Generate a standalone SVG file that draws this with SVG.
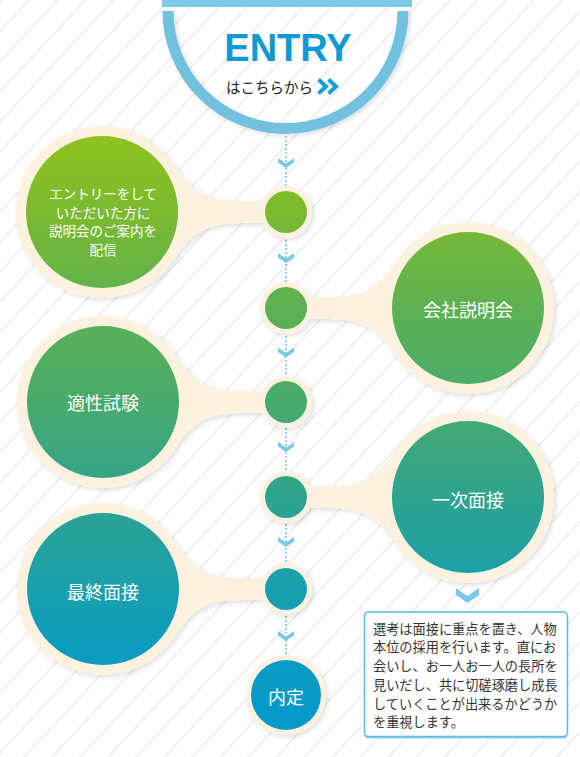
<svg xmlns="http://www.w3.org/2000/svg" width="580" height="757" viewBox="0 0 580 757">
<defs>
<pattern id="stripes" width="20.5" height="20.5" patternUnits="userSpaceOnUse" patternTransform="rotate(43)">
<rect x="0" y="0" width="2" height="20.5" fill="#efefef"/>
</pattern>
<linearGradient id="grad" gradientUnits="userSpaceOnUse" x1="0" y1="136" x2="0" y2="730">
<stop offset="0" stop-color="#8dc21f"/>
<stop offset="0.128" stop-color="#7cba2f"/>
<stop offset="0.288" stop-color="#5db152"/>
<stop offset="0.448" stop-color="#48ab6c"/>
<stop offset="0.608" stop-color="#2ea38e"/>
<stop offset="0.763" stop-color="#18a0ad"/>
<stop offset="0.89" stop-color="#0a9bc4"/>
<stop offset="1" stop-color="#0399cc"/>
</linearGradient>
<filter id="shadow" x="-20%" y="-20%" width="140%" height="140%">
<feDropShadow dx="2" dy="2" stdDeviation="2.5" flood-color="#000" flood-opacity="0.13"/>
</filter>
<path id="band" d="M70.4,-49.3 C88,-22 103,-11 138,-11 L175,-11 L175,11 L138,11 C103,11 88,22 70.4,49.3 Z"/>
<polygon id="chev" points="-8,0 0,5.5 8,0 8,4.5 0,10 -8,4.5"/>
</defs>
<style>
.cream{fill:#fdf2e0}
.fill{fill:url(#grad)}
.lbl{font-family:"Noto Sans CJK JP","Noto Sans",sans-serif;fill:#ffffff;text-anchor:middle}
.big{font-size:18px}
.small{font-size:13.5px}
.chev{fill:#7cc7e8}
.body{font-family:"Noto Sans CJK JP","Noto Sans",sans-serif;font-size:13.2px;fill:#333333}
</style>
<rect x="0" y="0" width="580" height="757" fill="#ffffff"/>
<rect x="0" y="0" width="580" height="757" fill="url(#stripes)"/>

<g id="entry">
<rect x="162" y="0" width="250" height="7" fill="#7ec9e6"/>
<path d="M168,11 A117.5,117.5 0 0 0 403,11" fill="none" stroke="#72c1df" stroke-width="11" filter="url(#shadow)"/>
<text x="288" y="61" font-family="Liberation Sans, Arial, sans-serif" font-weight="bold" font-size="38" fill="#0f9ad3" text-anchor="middle">ENTRY</text>
<text x="226" y="93" font-family="Noto Sans CJK JP, sans-serif" font-size="14.5" fill="#222222">はこちらから</text>
<polyline points="318.5,79.5 326,86.5 318.5,93.5" fill="none" stroke="#1a9ed6" stroke-width="4"/>
<polyline points="328.5,79.5 336,86.5 328.5,93.5" fill="none" stroke="#1a9ed6" stroke-width="4"/>
</g>

<g id="connectors">
<line x1="286" y1="136" x2="286" y2="660" stroke="#5bb8e0" stroke-width="1.3" stroke-dasharray="2 2"/>
<use href="#chev" class="chev" x="286" y="158"/>
<use href="#chev" class="chev" x="286" y="253"/>
<use href="#chev" class="chev" x="286" y="347.5"/>
<use href="#chev" class="chev" x="286" y="442"/>
<use href="#chev" class="chev" x="286" y="537"/>
<use href="#chev" class="chev" x="286" y="631"/>
<polygon points="456,588 467.5,596 479,588 479,595 467.5,603 456,595" class="chev"/>
</g>

<g id="step1">
<g class="cream" filter="url(#shadow)">
<use href="#band" transform="translate(102,212)"/>
<circle cx="102" cy="212" r="86"/>
<circle cx="286" cy="212" r="26"/>
</g>
<circle class="fill" cx="102" cy="212" r="76"/>
<circle class="fill" cx="286" cy="212" r="21"/>
<text class="lbl small" x="103" y="199">エントリーをして</text>
<text class="lbl small" x="103" y="217.5">いただいた方に</text>
<text class="lbl small" x="103" y="236">説明会のご案内を</text>
<text class="lbl small" x="103" y="254.5">配信</text>
</g>

<g id="step2">
<g class="cream" filter="url(#shadow)">
<use href="#band" transform="translate(468,308) scale(-1,1)"/>
<circle cx="468" cy="308" r="86"/>
<circle cx="286" cy="308" r="26"/>
</g>
<circle class="fill" cx="468" cy="308" r="76"/>
<circle class="fill" cx="286" cy="308" r="21"/>
<text class="lbl big" x="468" y="317">会社説明会</text>
</g>

<g id="step3">
<g class="cream" filter="url(#shadow)">
<use href="#band" transform="translate(103,402)"/>
<circle cx="103" cy="402" r="86"/>
<circle cx="286" cy="402" r="26"/>
</g>
<circle class="fill" cx="103" cy="402" r="76"/>
<circle class="fill" cx="286" cy="402" r="21"/>
<text class="lbl big" x="103" y="410">適性試験</text>
</g>

<g id="step4">
<g class="cream" filter="url(#shadow)">
<use href="#band" transform="translate(468,497) scale(-1,1)"/>
<circle cx="468" cy="497" r="86"/>
<circle cx="286" cy="497" r="26"/>
</g>
<circle class="fill" cx="468" cy="497" r="76"/>
<circle class="fill" cx="286" cy="497" r="21"/>
<text class="lbl big" x="468" y="507">一次面接</text>
</g>

<g id="step5">
<g class="cream" filter="url(#shadow)">
<use href="#band" transform="translate(103,589)"/>
<circle cx="103" cy="589" r="86"/>
<circle cx="286" cy="589" r="26"/>
</g>
<circle class="fill" cx="103" cy="589" r="76"/>
<circle class="fill" cx="286" cy="589" r="21"/>
<text class="lbl big" x="103" y="599">最終面接</text>
</g>

<g id="naitei">
<circle class="cream" cx="286" cy="695" r="40" filter="url(#shadow)"/>
<circle class="fill" cx="286" cy="695" r="35"/>
<text class="lbl big" x="286" y="704">内定</text>
</g>

<g id="note">
<rect x="364.5" y="613.5" width="203" height="125" rx="4" fill="#8fd0ea"/>
<rect x="364.5" y="612" width="203" height="124.5" rx="4" fill="#ffffff" stroke="#56bde3" stroke-width="1.5"/>
<text class="body" x="373" y="633.5">選考は面接に重点を置き、人物</text>
<text class="body" x="373" y="652">本位の採用を行います。直にお</text>
<text class="body" x="373" y="671">会いし、お一人お一人の長所を</text>
<text class="body" x="373" y="690">見いだし、共に切磋琢磨し成長</text>
<text class="body" x="373" y="708.5">していくことが出来るかどうか</text>
<text class="body" x="373" y="727">を重視します。</text>
</g>
</svg>
